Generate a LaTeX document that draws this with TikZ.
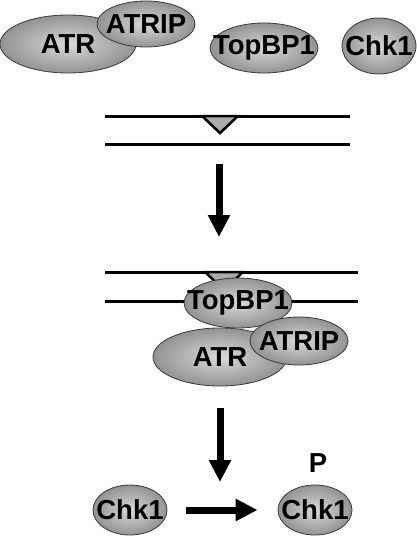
\documentclass[tikz,border=0pt]{standalone}
\usepackage{fontspec}
\setmainfont{Liberation Sans}
\usetikzlibrary{shapes.geometric,arrows.meta}
\tikzstyle{pname}=[font=\fontsize{27.5}{27.5}\selectfont\bfseries,inner sep=0pt]
\tikzstyle{prot}=[ellipse,inner sep=0pt,draw=gray!45!black,line width=0.8pt,
  inner color=gray!30,outer color=gray!85,label={[pname]center:#1}]
\tikzstyle{dna}=[line width=3pt]
\tikzstyle{lesion}=[line width=2.5pt,fill=gray!65,line join=miter]
\tikzstyle{push}=[line width=7pt,-{Triangle[length=22pt,width=21pt]}]

\begin{document}
\begin{tikzpicture}[x=1pt,y=-1pt]
                    \useasboundingbox (0,0) rectangle (416,541);

                    % free proteins
                    \node (atr1) at (68,44) [prot=ATR,minimum width=136pt,minimum height=58pt] {};
                    \node (atrip1) at (146,24) [prot=ATRIP,minimum width=98pt,minimum height=46pt] {};
                    \node (top1) at (264,48) [prot=TopBP1,minimum width=108pt,minimum height=50pt] {};
                    \node (chk1) at (379,46) [prot=Chk1,minimum width=74pt,minimum height=56pt] {};

                    % damaged DNA
                    \draw [dna] (105,116) -- (350,116);
                    \draw [dna] (105,144) -- (350,144);
                    \draw [lesion] (202,116) -- (220,133) -- (238,116) -- cycle;

                    \coordinate (s1) at (219,164);
                    \coordinate (e1) at (219,237);
                    \draw [push] (s1) -- (e1);

                    % loaded complex
                    \draw [dna] (105,272) -- (358,272);
                    \draw [dna] (105,301) -- (358,301);
                    \draw [lesion] (205,272) -- (224,290) -- (243,272) -- cycle;

                    \node (top2) at (238,303) [prot=TopBP1,minimum width=108pt,minimum height=50pt] {};
                    \node (atr2) at (220,357) [prot=ATR,minimum width=134pt,minimum height=58pt] {};
                    \node (atrip2) at (299,341) [prot=ATRIP,minimum width=98pt,minimum height=48pt] {};

                    \coordinate (s2) at (220,408);
                    \coordinate (e2) at (220,482);
                    \draw [push] (s2) -- (e2);

                    % phosphorylation
                    \node (chkL) at (130,510) [prot=Chk1,minimum width=74pt,minimum height=50pt] {};
                    \node (chkR) at (315,510) [prot=Chk1,minimum width=74pt,minimum height=50pt] {};
                    \node (p) at (318,463) [pname] {P};

                    \draw [push,shorten <=19pt,shorten >=20pt] (chkL) -- (chkR);
                \end{tikzpicture}
\end{document}
